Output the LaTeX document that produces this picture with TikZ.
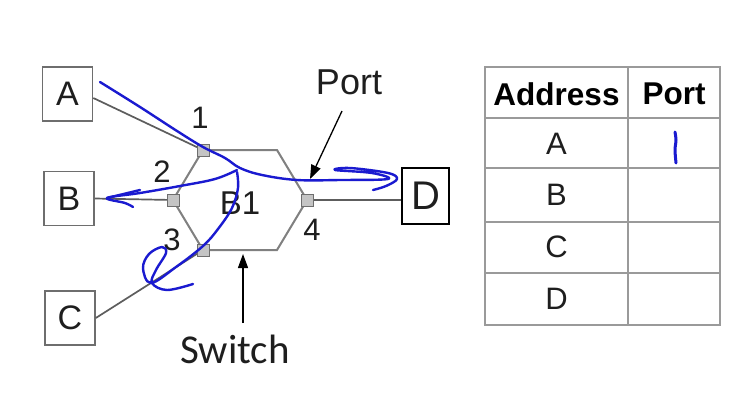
\documentclass[tikz,border=0pt]{standalone}
\usepackage{fontspec}
\setmainfont{Liberation Sans}
\newfontfamily\carlitofont{Carlito}
\usetikzlibrary{arrows.meta,calc}
\definecolor{boxgray}{HTML}{6E6E6E}
\definecolor{hexgray}{HTML}{808080}
\definecolor{portfill}{HTML}{C4C4C4}
\definecolor{tabgray}{HTML}{9A9A9A}
\definecolor{ink}{HTML}{1A1AD0}
\definecolor{txt}{HTML}{1E1E1E}
\begin{document}
\begin{tikzpicture}[x=1pt,y=-1pt,
  hostbox/.style={draw=boxgray,line width=1.6pt,minimum width=50pt,minimum height=54pt,inner sep=0pt,font=\fontsize{34}{34}\selectfont,text=txt},
  portsq/.style={draw=boxgray,fill=portfill,line width=1pt,minimum size=12pt,inner sep=0pt},
  hexline/.style={draw=hexgray,line width=2pt},
  wire/.style={draw=boxgray!85!black,line width=1.7pt},
  lbl/.style={font=\fontsize{31}{31}\selectfont,text=txt,inner sep=0pt},
  pointer/.style={draw=black,line width=1.3pt,-{Triangle[length=14pt,width=10pt]}},
  tabline/.style={draw=tabgray,line width=1.5pt},
  tabtxt/.style={font=\fontsize{31}{31}\selectfont,text=txt,inner sep=0pt},
  tabhead/.style={font=\fontsize{31.5}{31.5}\selectfont\bfseries,text=black,inner sep=0pt},
  pen/.style={draw=ink,line width=2.4pt,line cap=round,line join=round}]
\useasboundingbox (0,0) rectangle (744,400);
\fill[white] (0,0) rectangle (744,400);

% hosts
\node[hostbox] (A) at (67.5,94) {A};
\node[hostbox] (B) at (69,198.5) {B};
\node[hostbox] (C) at (70,318) {C};
\node[hostbox,draw=black,line width=2pt,minimum width=47pt,minimum height=56pt,font=\fontsize{40}{40}\selectfont] (D) at (425.5,196) {D};

% switch hexagon
\coordinate (p1c) at (203,150);
\coordinate (tr) at (277,150);
\coordinate (p4c) at (307,200);
\coordinate (br) at (277,250);
\coordinate (p3c) at (203,250);
\coordinate (p2c) at (173,200);
\draw[hexline] (p1c) -- (tr) -- (p4c) -- (br) -- (p3c) -- (p2c) -- cycle;

% wires
\draw[wire] ($(A.east)+(0,4)$) -- (p1c);
\draw[wire] (B.east) -- (p2c);
\draw[wire] (C.east) -- (p3c);
\draw[wire] (p4c) -- (p4c -| D.west);

% ports
\node[portsq] (p1) at (p1c) {};
\node[portsq] (p2) at (p2c) {};
\node[portsq] (p3) at (p3c) {};
\node[portsq] (p4) at (p4c) {};

% labels
\node[lbl] (l1) at (200,118) {1};
\node[lbl] (l2) at (162,172) {2};
\node[lbl] (l3) at (172,240) {3};
\node[lbl] (l4) at (312,230) {4};
\node[lbl,font=\fontsize{33}{33}\selectfont] (b1) at (240,203) {B1};
\node[lbl,font=\fontsize{36}{36}\selectfont] (portlbl) at (349,82) {Port};
\node[lbl,font=\carlitofont\fontsize{41}{41}\selectfont] (switchlbl) at (235,349) {Switch};

\coordinate (portfrom) at (342,111);
\coordinate (portto) at (310,179);
\draw[pointer] (portfrom) -- (portto);
\coordinate (swfrom) at (243,323);
\coordinate (swto) at (243,254);
\draw[pointer] (swfrom) -- (swto);

% table
\coordinate (t0) at (485,67);
\coordinate (t1) at (720,325);
\draw[tabline] (t0) rectangle (t1);
\draw[tabline] (628,67) -- (628,325);
\foreach \yy in {118,168,222,273} \draw[tabline] (485,\yy) -- (720,\yy);
\node[tabhead] (hAddr) at (556.5,94) {Address};
\node[tabhead] (hPort) at (674,94) {Port};
\node[tabtxt] (rA) at (556.5,144) {A};
\node[tabtxt] (rB) at (556.5,195) {B};
\node[tabtxt] (rC) at (556.5,247) {C};
\node[tabtxt] (rD) at (556.5,299) {D};

% hand-drawn ink
\draw[pen] plot[smooth,tension=0.6] coordinates {(100,82) (140,107) (177,131) (203,147) (225,158) (240,168) (262,175) (297,180) (340,180) (388,179) (372,173) (335,170) (350,168) (388,173) (397,179) (386,186) (373,190)};
\draw[pen] plot[smooth,tension=0.6] coordinates {(237,170) (215,179) (180,186) (140,193) (107,198) (125,203) (133,207)};
\draw[pen] (140,190) -- (107,198);
\draw[pen] plot[smooth,tension=0.6] coordinates {(237,172) (238,188) (232,208) (218,229) (203,246) (176,267) (151,283) (143,268) (149,254) (162,247) (166,253) (156,270) (152,283) (167,290) (193,284)};
\draw[pen,line width=3pt] plot[smooth] coordinates {(675,132) (676,140) (675,150) (676,163)};
\end{tikzpicture}
\end{document}
